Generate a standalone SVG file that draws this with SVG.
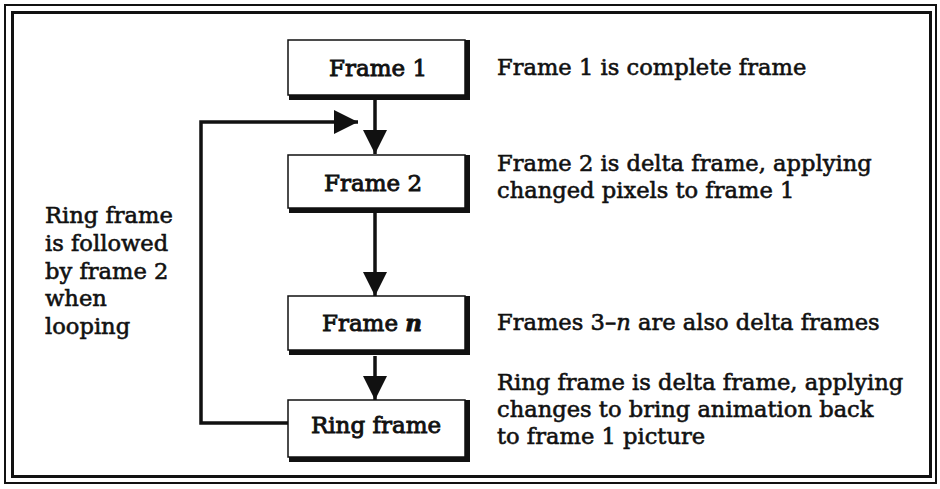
<svg xmlns="http://www.w3.org/2000/svg" width="940" height="489" viewBox="0 0 940 489">
<style>
  .t { font-family: "DejaVu Serif", "Liberation Serif", serif; font-size: 22.6px; fill: #111; stroke: #111; stroke-width: 0.6; }
  .b { font-size: 23px; stroke-width: 0.9; }
  .box { fill: #fff; stroke: #111; stroke-width: 1.5; }
  .shadow { fill: none; stroke: #111; stroke-width: 6; }
  .line { fill: none; stroke: #111; stroke-width: 3.5; }
  .frame { fill: none; stroke: #111; }
</style>
<defs>
  <marker id="big" viewBox="0 0 24 24" refX="24" refY="12" markerWidth="24" markerHeight="24" orient="auto" markerUnits="userSpaceOnUse">
    <path d="M0,0 L24,12 L0,24 Z" fill="#111"/>
  </marker>
</defs>
<rect width="940" height="489" fill="#fff"/>
<g id="border">
  <rect class="frame" x="5" y="5" width="931" height="478" stroke-width="2"/>
  <rect class="frame" x="12.5" y="12.5" width="918" height="464" stroke-width="3"/>
</g>
<g id="connectors">
  <line class="line" x1="375" y1="100" x2="375" y2="154" marker-end="url(#big)"/>
  <line class="line" x1="375" y1="213" x2="375" y2="296" marker-end="url(#big)"/>
  <line class="line" x1="375" y1="356" x2="375" y2="400" marker-end="url(#big)"/>
  <polyline class="line" points="288,423 201,423 201,122 358,122" marker-end="url(#big)"/>
</g>
<g id="frame1">
  <polyline class="shadow" points="289,97 467,97 467,40"/>
  <rect class="box" x="288" y="40" width="177" height="55"/>
  <text class="t b" x="378" y="76" text-anchor="middle">Frame 1</text>
</g>
<g id="frame2">
  <polyline class="shadow" points="289,210 467,210 467,155"/>
  <rect class="box" x="288" y="155" width="177" height="53"/>
  <text class="t b" x="373" y="191" text-anchor="middle">Frame 2</text>
</g>
<g id="framen">
  <polyline class="shadow" points="289,352 467,352 467,296"/>
  <rect class="box" x="288" y="296" width="177" height="54"/>
  <text class="t b" x="372" y="331" text-anchor="middle">Frame <tspan font-style="italic" font-weight="bold">n</tspan></text>
</g>
<g id="ringframe">
  <polyline class="shadow" points="289,459 467,459 467,400"/>
  <rect class="box" x="288" y="400" width="177" height="57"/>
  <text class="t b" x="376" y="433" text-anchor="middle">Ring frame</text>
</g>
<g id="notes">
  <text class="t" x="497" y="75">Frame 1 is complete frame</text>
  <text class="t" x="497" y="171">Frame 2 is delta frame, applying</text>
  <text class="t" x="497" y="198">changed pixels to frame 1</text>
  <text class="t" x="497" y="330">Frames 3–<tspan font-style="italic">n</tspan> are also delta frames</text>
  <text class="t" x="497" y="390">Ring frame is delta frame, applying</text>
  <text class="t" x="497" y="417">changes to bring animation back</text>
  <text class="t" x="497" y="444">to frame 1 picture</text>
  <text class="t" x="45" y="223">Ring frame</text>
  <text class="t" x="45" y="251">is followed</text>
  <text class="t" x="45" y="279">by frame 2</text>
  <text class="t" x="45" y="306">when</text>
  <text class="t" x="45" y="334">looping</text>
</g>
</svg>
